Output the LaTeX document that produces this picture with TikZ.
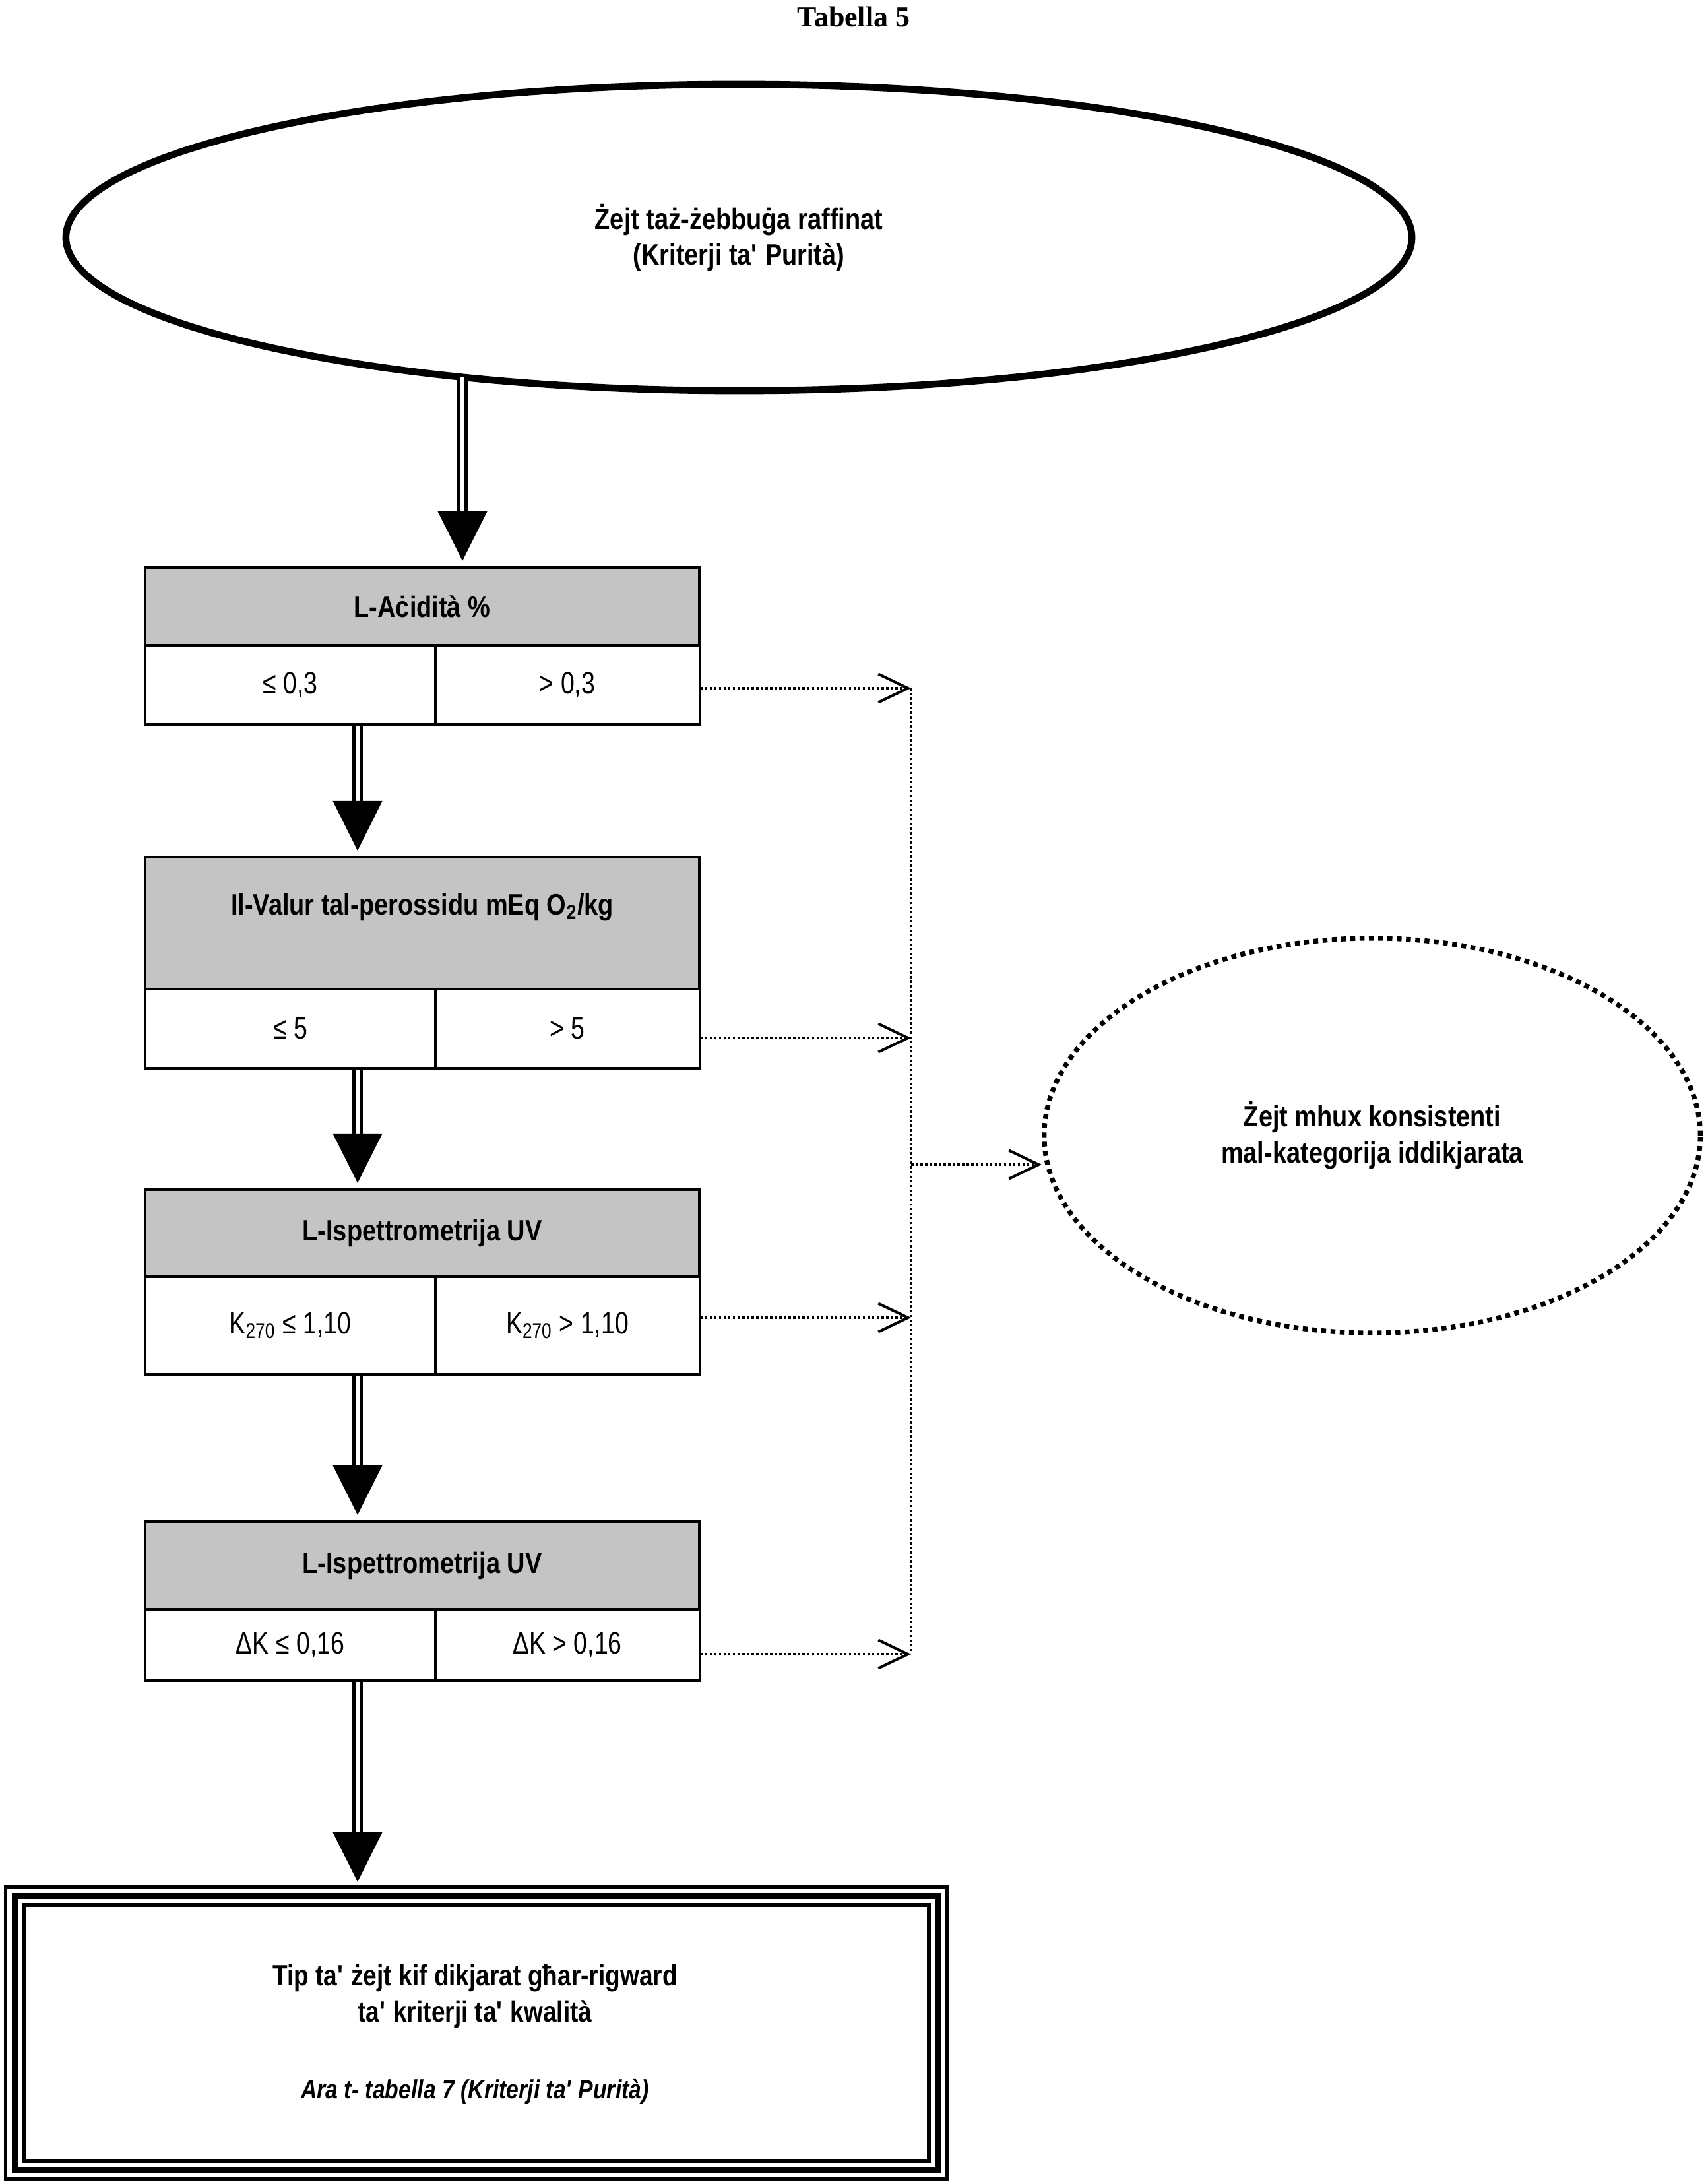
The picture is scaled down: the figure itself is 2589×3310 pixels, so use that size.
\documentclass[tikz,border=0pt]{standalone}
\usepackage{fontspec}
\setmainfont{Liberation Sans}[FakeStretch=0.85]
\newfontfamily\rowfont{Liberation Sans}[FakeStretch=0.8]
\newfontfamily\titlefont{Liberation Serif}
\usetikzlibrary{arrows.meta,shapes.geometric,calc}
\definecolor{hdrgray}{RGB}{196,196,196}
\newcommand\hdrtxt{\fontsize{12.7pt}{15.6pt}\selectfont\bfseries}
\newcommand\rowtxt{\rowfont\fontsize{13.3pt}{15.6pt}\selectfont}
\newcommand\apo{\textquotesingle}
\begin{document}
\begin{tikzpicture}[x=0.01cm,y=-0.01cm,
  hdr/.style={draw, line width=1.2pt, fill=hdrgray, minimum width=8.4cm, inner sep=0pt, font=\hdrtxt},
  cell/.style={draw, line width=0.9pt, inner sep=0pt, font=\rowtxt},
  lcell/.style={cell, minimum width=4.4cm},
  rcell/.style={cell, minimum width=4.0cm},
  txt/.style={inner sep=0pt, font=\hdrtxt, align=center},
  dbl/.style={line width=1.55pt, double=white, double distance=1.45pt},
  head/.style={line width=0.3pt, -{Triangle[length=0.75cm,width=0.75cm]}},
  dotl/.style={line width=1pt, dash pattern=on 1pt off 1pt},
  dotc/.style={dotl, -{Straight Barb[length=0.45cm,width=0.43cm,line width=1.15pt]}}
]
\fill[white] (0,0) rectangle (2589,3310);
\useasboundingbox (0,0) rectangle (2589,3310);

% title
\node[inner sep=0pt, font=\titlefont\bfseries\fontsize{12.5pt}{14pt}\selectfont] (ttl) at (1294,25) {Tabella 5};

% top ellipse
\node[ellipse, draw, line width=3pt, minimum width=20.39cm, minimum height=4.64cm, inner sep=0pt, font=\hdrtxt, align=center] (top) at (1120,360)
  {Żejt taż-żebbuġa raffinat\\(Kriterji ta\apo{} Purità)};

% box 1
\node[lcell, minimum height=1.2cm] (c1l) at (440,1038) {≤ 0,3};
\node[rcell, minimum height=1.2cm] (c1r) at (860,1038) {> 0,3};
\node[hdr, minimum height=1.18cm] (h1) at (640,919) {L-Aċidità \%};

% box 2
\node[lcell, minimum height=1.2cm] (c2l) at (440,1559) {≤ 5};
\node[rcell, minimum height=1.2cm] (c2r) at (860,1559) {> 5};
\node[hdr, minimum height=2.0cm] (h2) at (640,1399) {};
\node[txt] (h2t) at (640,1375) {Il-Valur tal-perossidu mEq O\textsubscript{2}/kg};

% box 3
\node[lcell, minimum height=1.48cm] (c3l) at (440,2009) {K\textsubscript{270} ≤ 1,10};
\node[rcell, minimum height=1.48cm] (c3r) at (860,2009) {K\textsubscript{270} > 1,10};
\node[hdr, minimum height=1.32cm] (h3) at (640,1869) {L-Ispettrometrija UV};

% box 4
\node[lcell, minimum height=1.08cm] (c4l) at (440,2493) {ΔK ≤ 0,16};
\node[rcell, minimum height=1.08cm] (c4r) at (860,2493) {ΔK > 0,16};
\node[hdr, minimum height=1.33cm] (h4) at (640,2372.5) {L-Ispettrometrija UV};

% final box
\node[draw, line width=1.6pt, outer sep=0pt, minimum width=14.26cm, minimum height=4.42cm, inner sep=0pt] (fin) at (722,3081) {};
\draw[line width=2.6pt] ([shift={(14,14)}]fin.north west) rectangle ([shift={(-14,-14)}]fin.south east);
\draw[line width=1.7pt] ([shift={(27,27)}]fin.north west) rectangle ([shift={(-27,-27)}]fin.south east);
\node[txt, font=\hdrtxt\addfontfeatures{FakeStretch=0.83}] (fint) at (720,3025) {Tip ta\apo{} żejt kif dikjarat għar-rigward\\ta\apo{} kriterji ta\apo{} kwalità};
\node[inner sep=0pt, font=\fontsize{11.3pt}{13pt}\selectfont\bfseries\itshape] (fini) at (720,3170) {Ara t- tabella 7 (Kriterji ta\apo{} Purità)};

% right ellipse
\node[ellipse, draw, line width=2.1pt, dash pattern=on 2.1pt off 1.9pt, minimum width=9.94cm, minimum height=5.98cm, inner sep=0pt, font=\hdrtxt, align=center] (re) at (2080,1721)
  {Żejt mhux konsistenti\\mal-kategorija iddikjarata};

% main double arrows
\coordinate (a1) at (701,572);
\coordinate (ax) at (542,0);
\draw[dbl] (a1) -- ($(a1 |- h1.north)+(0,-83)$);
\draw[head] ($(a1 |- h1.north)+(0,-83)$) -- ($(a1 |- h1.north)+(0,-8)$);

\draw[dbl] (ax |- c1l.south) -- ($(ax |- h2.north)+(0,-83)$);
\draw[head] ($(ax |- h2.north)+(0,-83)$) -- ($(ax |- h2.north)+(0,-8)$);

\draw[dbl] (ax |- c2l.south) -- ($(ax |- h3.north)+(0,-83)$);
\draw[head] ($(ax |- h3.north)+(0,-83)$) -- ($(ax |- h3.north)+(0,-8)$);

\draw[dbl] (ax |- c3l.south) -- ($(ax |- h4.north)+(0,-83)$);
\draw[head] ($(ax |- h4.north)+(0,-83)$) -- ($(ax |- h4.north)+(0,-8)$);

\draw[dbl] (ax |- c4l.south) -- ($(ax |- fin.north)+(0,-83)$);
\draw[head] ($(ax |- fin.north)+(0,-83)$) -- ($(ax |- fin.north)+(0,-8)$);

% dotted connectors
\coordinate (t1) at (1381,1043);
\coordinate (t2) at (1381,1573);
\coordinate (t3) at (1381,1997);
\coordinate (t4) at (1381,2507);
\coordinate (tj) at (1381,1765);
\draw[dotl] (t1) -- (t4);
\draw[dotc] (c1r.east |- t1) -- (t1);
\draw[dotc] (c2r.east |- t2) -- (t2);
\draw[dotc] (c3r.east |- t3) -- (t3);
\draw[dotc] (c4r.east |- t4) -- (t4);
\draw[dotc] (tj) -- (tj -| re.west);
\end{tikzpicture}
\end{document}
